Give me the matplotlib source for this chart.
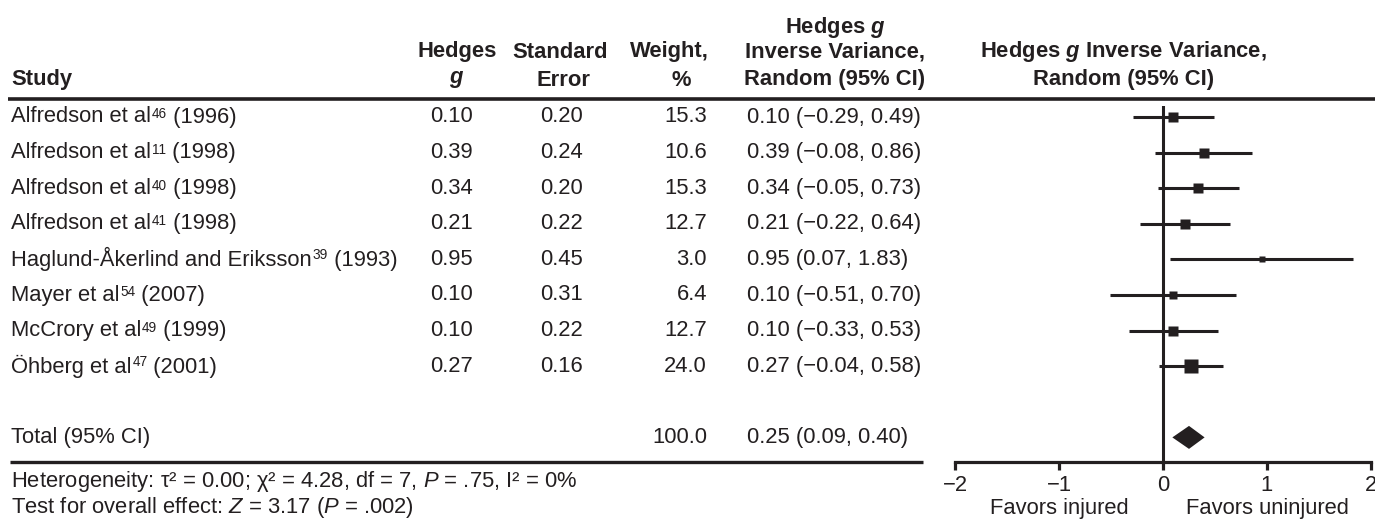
import matplotlib
matplotlib.use("Agg")
import matplotlib.pyplot as plt
import numpy as np

plt.rcParams['font.family'] = ['Liberation Sans', 'DejaVu Sans']
plt.rcParams['mathtext.fontset'] = 'custom'
plt.rcParams['mathtext.rm'] = 'Liberation Sans'
plt.rcParams['mathtext.it'] = 'Liberation Sans:italic'
plt.rcParams['mathtext.bf'] = 'Liberation Sans:bold'
plt.rcParams['mathtext.bfit'] = 'Liberation Sans:italic:bold'

# data
study_names = ["Alfredson et al", "Alfredson et al", "Alfredson et al", "Alfredson et al",
               "Haglund-Åkerlind and Eriksson", "Mayer et al", "McCrory et al", "Öhberg et al"]
refs = ["46", "11", "40", "41", "39", "54", "49", "47"]
years = ["1996", "1998", "1998", "1998", "1993", "2007", "1999", "2001"]
hedges_g = [0.10, 0.39, 0.34, 0.21, 0.95, 0.10, 0.10, 0.27]
std_err = [0.20, 0.24, 0.20, 0.22, 0.45, 0.31, 0.22, 0.16]
weights = [15.3, 10.6, 15.3, 12.7, 3.0, 6.4, 12.7, 24.0]
ci_low = [-0.29, -0.08, -0.05, -0.22, 0.07, -0.51, -0.33, -0.04]
ci_high = [0.49, 0.86, 0.73, 0.64, 1.83, 0.70, 0.53, 0.58]
total_g, total_low, total_high, total_weight = 0.25, 0.09, 0.40, 100.0
xticks = [-2, -1, 0, 1, 2]

ink = '#231f20'
fs = 15.8
W, H = 1375, 521


def fmt(v):
    return f"{v:.2f}".replace('-', '\u2212')


def row_y(i):
    return 117 + 35.6 * i


fig = plt.figure(figsize=(W / 100, H / 100), dpi=100)
bg = fig.add_axes([0, 0, 1, 1])
bg.set_xlim(0, W)
bg.set_ylim(H, 0)
bg.axis('off')

# headers
hdr = dict(fontsize=fs, fontweight='bold', color=ink, va='center', ha='center')
bg.text(11, 80, "Study", **dict(hdr, ha='left'))
bg.text(457, 52, "Hedges", **hdr)
bg.text(457, 79, r"$\mathbfit{g}$", **hdr)
bg.text(560, 52, "Standard", **hdr)
bg.text(564, 80, "Error", **hdr)
bg.text(669, 52, "Weight,", **hdr)
bg.text(681, 80, "%", **hdr)
bg.text(835, 27, r"Hedges $\mathbfit{g}$", **hdr)
bg.text(835, 52, "Inverse Variance,", **hdr)
bg.text(835, 80, "Random (95% CI)", **hdr)
bg.text(1123, 52, r"Hedges $\mathbfit{g}$ Inverse Variance,", **hdr)
bg.text(1124, 80, "Random (95% CI)", **hdr)
bg.plot([8, W], [98.5, 98.5], color=ink, lw=2.6, solid_capstyle='butt')

# table rows
txt = dict(fontsize=fs, color=ink, va='center')
for i in range(len(study_names)):
    y = row_y(i)
    t1 = bg.text(11, y, study_names[i], ha='left', **txt)
    t2 = bg.annotate(refs[i], xy=(1, 1), xycoords=t1, xytext=(0.6, -0.6),
                     textcoords='offset points', ha='left', va='top',
                     fontsize=fs * 0.62, color=ink)
    bg.annotate(f" ({years[i]})", xy=(1, 0), xycoords=(t2, t1), ha='left',
                va='bottom', fontsize=fs, color=ink)
    bg.text(473, y, fmt(hedges_g[i]), ha='right', **txt)
    bg.text(583, y, fmt(std_err[i]), ha='right', **txt)
    bg.text(707, y, f"{weights[i]:.1f}", ha='right', **txt)
    bg.text(747, y, f"{fmt(hedges_g[i])} ({fmt(ci_low[i])}, {fmt(ci_high[i])})", ha='left', **txt)

yt = row_y(9)
bg.text(11, yt, "Total (95% CI)", ha='left', **txt)
bg.text(707, yt, f"{total_weight:.1f}", ha='right', **txt)
bg.text(747, yt, f"{fmt(total_g)} ({fmt(total_low)}, {fmt(total_high)})", ha='left', **txt)
bg.plot([10, 923], [461.5, 461.5], color=ink, lw=2.4, solid_capstyle='butt')

bg.text(11, 481, "Heterogeneity: τ² = 0.00; χ² = 4.28, df = 7, $P$ = .75, I² = 0%", ha='left', **txt)
bg.text(11, 507, "Test for overall effect: $Z$ = 3.17 ($P$ = .002)", ha='left', **txt)

# forest plot
top_px, bot_px = 106, 461.5
ax = fig.add_axes([955 / W, (H - bot_px) / H, (1371 - 955) / W, (bot_px - top_px) / H])
ax.set_xlim(-2, 2)
ax.set_ylim((bot_px - 117) / 35.6, (top_px - 117) / 35.6)
ax.patch.set_alpha(0)
for s in ['top', 'right', 'left']:
    ax.spines[s].set_visible(False)
ax.spines['bottom'].set_linewidth(2.3)
ax.spines['bottom'].set_color(ink)
ax.set_yticks([])
ax.set_xticks(xticks)
ax.tick_params(axis='x', direction='out', length=5.5, width=2.3, color=ink,
               labelsize=fs, labelcolor=ink, pad=4)
ax.axvline(0, color=ink, lw=2.2)

rows = np.arange(len(study_names))
ax.hlines(rows, ci_low, ci_high, color=ink, lw=2.2)
for i in rows:
    ax.plot(hedges_g[i], i, marker='s', color=ink, mec='none',
            ms=0.72 * (2.0 + 2.3 * np.sqrt(weights[i])))

h = 11.5 / 35.6
ax.fill([total_low, total_g, total_high, total_g], [9, 9 - h, 9, 9 + h], color=ink, lw=0)

bg.text(1059, 519, "Favors injured", ha='center', fontsize=fs, color=ink, va='bottom')
bg.text(1267, 519, "Favors uninjured", ha='center', fontsize=fs, color=ink, va='bottom')

fig.savefig("out.png", dpi=100)
